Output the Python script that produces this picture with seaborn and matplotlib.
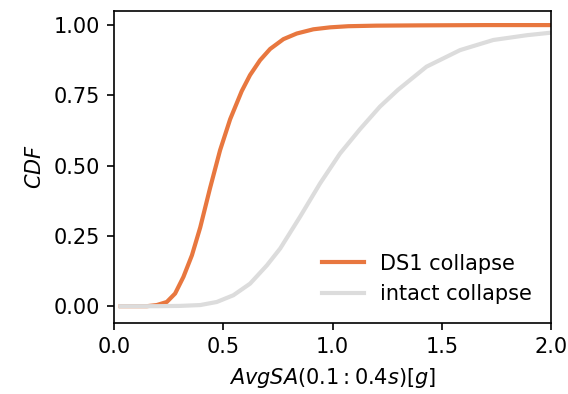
import matplotlib
matplotlib.use("Agg")
import matplotlib.pyplot as plt
import seaborn as sns
import pandas as pd

# curves
ds1_x = [0.03, 0.15, 0.195, 0.241, 0.279, 0.317, 0.356, 0.394, 0.439, 0.485,
         0.531, 0.584, 0.622, 0.668, 0.714, 0.775, 0.836, 0.912, 0.989, 1.072,
         1.2, 1.4, 1.7, 2.0]
ds1_y = [0.0, 0.0, 0.004, 0.015, 0.045, 0.104, 0.181, 0.28, 0.42, 0.555,
         0.665, 0.765, 0.822, 0.875, 0.915, 0.95, 0.97, 0.985, 0.992, 0.996,
         0.998, 0.999, 1.0, 1.0]

intact_x = [0.03, 0.2, 0.3, 0.394, 0.47, 0.546, 0.622, 0.699, 0.76, 0.851,
            0.943, 1.034, 1.126, 1.217, 1.3, 1.43, 1.584, 1.736, 1.89, 2.0]
intact_y = [0.0, 0.0, 0.001, 0.004, 0.015, 0.039, 0.08, 0.145, 0.205, 0.318,
            0.437, 0.543, 0.63, 0.71, 0.77, 0.852, 0.911, 0.947, 0.964, 0.973]

labels = ["DS1 collapse", "intact collapse"]
colors = {"DS1 collapse": "#e8773f", "intact collapse": "#dcdcdc"}

df = pd.concat([
    pd.DataFrame({"x": ds1_x, "y": ds1_y, "case": labels[0]}),
    pd.DataFrame({"x": intact_x, "y": intact_y, "case": labels[1]}),
])

plt.rcParams["font.family"] = ["DejaVu Sans"]

fig, ax = plt.subplots(figsize=(568 / 150, 394 / 150), dpi=150)
fig.subplots_adjust(left=0.201, right=0.970, top=0.972, bottom=0.181)

sns.lineplot(data=df, x="x", y="y", hue="case", hue_order=labels,
             palette=colors, estimator=None, linewidth=2, ax=ax)

ax.set_xlim(0, 2)
ax.set_ylim(-0.0587, 1.05)
ax.set_xticks([0.0, 0.5, 1.0, 1.5, 2.0])
ax.set_yticks([0.0, 0.25, 0.5, 0.75, 1.0])
ax.set_xlabel(r"$AvgSA(0.1:0.4s)[g]$")
ax.set_ylabel(r"$CDF$")
ax.legend(loc="lower right", frameon=False, title=None)

fig.savefig("out.png", dpi=150)
